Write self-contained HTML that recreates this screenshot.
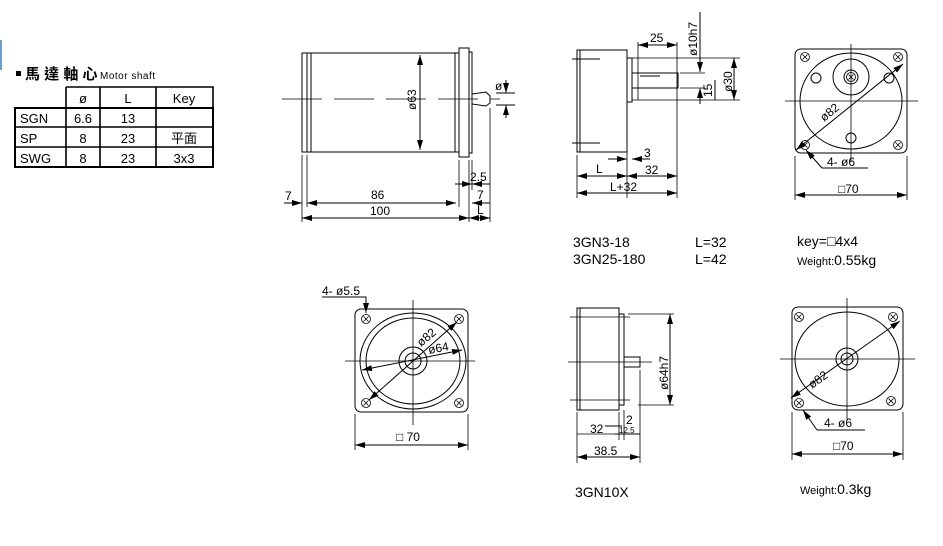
<!DOCTYPE html>
<html><head><meta charset="utf-8"><style>
html,body{margin:0;padding:0;background:#fff;}
svg{display:block;font-family:"Liberation Sans","Noto Sans CJK TC",sans-serif;}
</style></head><body>
<svg width="943" height="546" viewBox="0 0 943 546" xmlns="http://www.w3.org/2000/svg">
<defs>
<marker id="a" viewBox="0 0 10 6" refX="10" refY="3" markerWidth="10" markerHeight="6" markerUnits="userSpaceOnUse" orient="auto-start-reverse"><path d="M0,0L10,3L0,6z" fill="#000"/></marker>
<g id="hx"><circle r="4.5" fill="none" stroke="#000" stroke-width="0.8"/><path d="M-2.5,-2.5L2.5,2.5M-2.5,2.5L2.5,-2.5" stroke="#000" stroke-width="0.8"/></g>
</defs>
<g stroke="#000" stroke-width="1" fill="none">
<rect x="0" y="40" width="2" height="30" fill="#6a9fd0" stroke="none"/>
<!-- table -->
<rect x="15" y="108" width="198" height="59" stroke-width="2"/>
<path d="M66,87H213V108M66,87V167M100,87V167M156,87V167M15,127H213M15,147H213" stroke-width="1.6"/>
<!-- MOTOR top-left -->
<rect x="302" y="53" width="157" height="99"/>
<path d="M311,53V152M307,53V152M455,53V152"/>
<rect x="459" y="48" width="10" height="109"/>
<path d="M469,52H472V153H469"/>
<path d="M472,94L486,92L490,96L490,103L486,106L472,104Z"/>
<path d="M282,99H500" stroke-dasharray="40,12" stroke-width="0.8"/>
<path d="M420,55V150" marker-start="url(#a)" marker-end="url(#a)"/>
<path d="M496,93H515M496,105H515M506,80V93M506,118V105" />
<path d="M506,85V93" marker-end="url(#a)"/><path d="M506,113V105" marker-end="url(#a)"/>
<path d="M302,155V222M307,155V207M459,160V207M469,160V222M472,160V190M490,108V222" stroke-width="0.8"/>
<path d="M284,203H302" marker-end="url(#a)"/>
<path d="M307,203H456" marker-start="url(#a)" marker-end="url(#a)"/>
<path d="M302,218H469" marker-start="url(#a)" marker-end="url(#a)"/>
<path d="M469,218H490" marker-start="url(#a)" marker-end="url(#a)"/>
<path d="M455,184H472" marker-end="url(#a)"/><path d="M490,184H472" marker-end="url(#a)"/>
<path d="M490,203H472" marker-end="url(#a)"/>
<!-- top mid side view -->
<rect x="577" y="50" width="50" height="102"/>
<path d="M580,50V152M572,59H600M572,143H600"/>
<rect x="627" y="58" width="5" height="44"/>
<path d="M632,73H678V88H632M640,76H660"/>
<path d="M632,58H740M680,73H705M680,88H705M632,100H740" stroke-width="0.8"/>
<path d="M638,42V100M677,42V198M627,104V198M577,155V198" stroke-width="0.8"/>
<path d="M638,45H677" marker-start="url(#a)" marker-end="url(#a)"/>
<path d="M700,12V72" marker-end="url(#a)"/><path d="M700,104V88" marker-end="url(#a)"/>
<path d="M734,58V100" marker-start="url(#a)" marker-end="url(#a)"/>
<path d="M715,80V100"/>
<path d="M608,159H627" marker-end="url(#a)"/><path d="M650,159H632" marker-end="url(#a)"/>
<path d="M577,176H627" marker-start="url(#a)" marker-end="url(#a)"/>
<path d="M627,176H677" marker-start="url(#a)" marker-end="url(#a)"/>
<path d="M577,193H677" marker-start="url(#a)" marker-end="url(#a)"/>
<!-- top right front view -->
<rect x="795" y="49" width="112" height="104" rx="6"/>
<ellipse cx="851" cy="101" rx="51" ry="48"/>
<circle cx="851" cy="77" r="18"/><circle cx="851" cy="77" r="7"/>
<circle cx="816" cy="78" r="5"/><circle cx="889" cy="78" r="5"/><circle cx="851" cy="138" r="5"/>
<path d="M785,101H918M851,44V162" stroke-width="0.8"/>
<path d="M796,150L903,64" marker-start="url(#a)" marker-end="url(#a)"/>
<path d="M822,168L806,150" marker-end="url(#a)"/><path d="M822,168H868"/>
<path d="M795,156V200M907,156V200" stroke-width="0.8"/>
<path d="M795,195H907" marker-start="url(#a)" marker-end="url(#a)"/>
<!-- bottom-left front -->
<rect x="355" y="309" width="113" height="103" rx="6"/>
<ellipse cx="413" cy="361" rx="53" ry="48"/>
<ellipse cx="413" cy="361" rx="47" ry="43"/>
<circle cx="413" cy="361" r="14"/><circle cx="413" cy="361" r="8"/>
<path d="M345,361H475M413,300V425" stroke-width="0.8"/>
<path d="M369,400L457,322" marker-start="url(#a)" marker-end="url(#a)"/>
<path d="M362,370L462,350" marker-start="url(#a)" marker-end="url(#a)"/>
<path d="M322,297H366V313" /><path d="M366,300V313" marker-end="url(#a)"/>
<path d="M355,414V450M468,414V450" stroke-width="0.8"/>
<path d="M355,445H468" marker-start="url(#a)" marker-end="url(#a)"/>
<!-- bottom mid side -->
<rect x="577" y="308" width="42" height="102"/>
<path d="M580,308V410"/>
<rect x="619" y="314" width="5" height="91"/>
<path d="M624,357H640V367H624"/>
<path d="M570,317H630M570,400H630M568,362H652" stroke-width="0.8"/>
<path d="M628,314H674M638,405H674" stroke-width="0.8"/>
<path d="M670,314V405" marker-start="url(#a)" marker-end="url(#a)"/>
<path d="M577,412V463M619,412V440M624,410V440M640,370V463" stroke-width="0.8"/>
<path d="M605,426H622M615,434H640"/>
<path d="M577,434H640" stroke-width="0.8"/>
<path d="M577,457H640" marker-start="url(#a)" marker-end="url(#a)"/>
<!-- bottom right front -->
<rect x="792" y="307" width="111" height="103" rx="6"/>
<ellipse cx="847" cy="359" rx="52" ry="47"/>
<circle cx="847" cy="359" r="11"/><circle cx="847" cy="359" r="6"/>
<path d="M780,359H915M847,298V420" stroke-width="0.8"/>
<path d="M791,398L900,321" marker-start="url(#a)" marker-end="url(#a)"/>
<path d="M817,430L803,410" marker-end="url(#a)"/><path d="M817,430H865"/>
<path d="M792,412V460M903,412V460" stroke-width="0.8"/>
<path d="M792,454H903" marker-start="url(#a)" marker-end="url(#a)"/>
</g>
<g>
<use href="#hx" x="805" y="57"/><use href="#hx" x="898" y="57"/><use href="#hx" x="805" y="145"/><use href="#hx" x="898" y="145"/>
<use href="#hx" x="366" y="319"/><use href="#hx" x="459" y="319"/><use href="#hx" x="366" y="403"/><use href="#hx" x="459" y="403"/>
<use href="#hx" x="799" y="317"/><use href="#hx" x="893" y="317"/><use href="#hx" x="799" y="403"/><use href="#hx" x="891" y="401"/>
<use href="#hx" x="851" y="77"/>
</g>
<g font-size="13" fill="#000">
<rect x="16" y="71" width="5" height="5"/>
<text x="25" y="79" font-size="15" font-weight="bold">馬 達 軸 心</text>
<text x="100" y="79" font-size="10" letter-spacing="0.5">Motor shaft</text>
<g text-anchor="middle" font-size="13">
<text x="83" y="103">ø</text><text x="128" y="103">L</text><text x="184" y="103">Key</text>
<text x="83" y="123">6.6</text><text x="128" y="123">13</text>
<text x="83" y="143">8</text><text x="128" y="143">23</text><text x="184" y="143">平面</text>
<text x="83" y="163">8</text><text x="128" y="163">23</text><text x="184" y="163">3x3</text>
</g>
<text x="20" y="123">SGN</text><text x="20" y="143">SP</text><text x="20" y="163">SWG</text>
<g font-size="12">
<text transform="translate(416,110) rotate(-90)">ø63</text>
<text x="495" y="90">ø</text>
<text x="285" y="200">7</text>
<text x="371" y="199">86</text>
<text x="370" y="215">100</text>
<text x="470" y="181">2.5</text>
<text x="477" y="199">7</text>
<text x="477" y="214">L</text>
<text x="650" y="42">25</text>
<text transform="translate(697,56) rotate(-90)">ø10h7</text>
<text transform="translate(712,97) rotate(-90)">15</text>
<text transform="translate(732,92) rotate(-90)">ø30</text>
<text x="644" y="157">3</text>
<text x="596" y="173">L</text>
<text x="645" y="174">32</text>
<text x="610" y="191">L+32</text>
<text transform="translate(824,122) rotate(-39)">ø82</text>
<text x="827" y="166">4- ø6</text>
<text x="838" y="193">□70</text>
<text x="322" y="295">4- ø5.5</text>
<text transform="translate(421,347) rotate(-40)">ø82</text>
<text transform="translate(429,354) rotate(-11)">ø64</text>
<text x="396" y="441">□ 70</text>
<text transform="translate(668,390) rotate(-90)">ø64h7</text>
<text x="626" y="424">2</text>
<text x="590" y="433">32</text>
<text x="619" y="433" font-size="8">12.5</text>
<text x="594" y="455">38.5</text>
<text transform="translate(812,389) rotate(-36)">ø82</text>
<text x="824" y="427">4- ø6</text>
<text x="833" y="450">□70</text>
</g>
<text x="573" y="247" font-size="14">3GN3-18</text>
<text x="573" y="264" font-size="14">3GN25-180</text>
<text x="695" y="247" font-size="14">L=32</text>
<text x="695" y="264" font-size="14">L=42</text>
<text x="797" y="246" font-size="14">key=□4x4</text>
<text x="797" y="265" font-size="11">Weight:<tspan font-size="14">0.55kg</tspan></text>
<text x="575" y="497" font-size="14">3GN10X</text>
<text x="800" y="494" font-size="11">Weight:<tspan font-size="14">0.3kg</tspan></text>
</g>
</svg>
</body></html>
